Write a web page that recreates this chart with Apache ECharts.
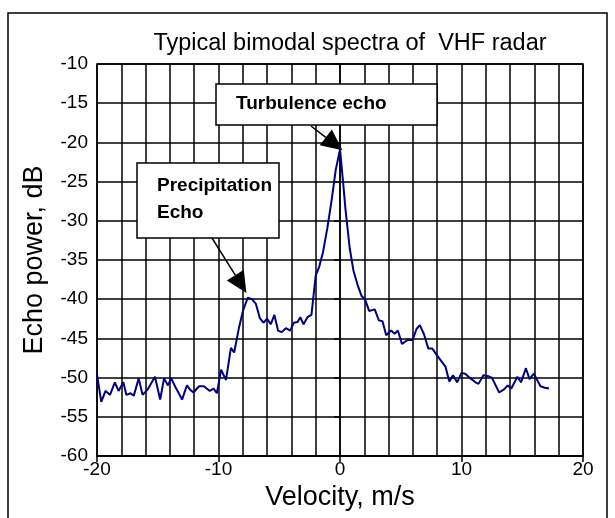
<!DOCTYPE html>
<html>
<head>
<meta charset="utf-8">
<script src="https://cdn.jsdelivr.net/npm/echarts@6/dist/echarts.min.js"></script>
<style>
  body { margin: 0; background: #fff; }
  #main { width: 615px; height: 518px; }
</style>
</head>
<body>
<div id="main"></div>
<script>
// spectrum: velocity (m/s) and echo power (dB)
var velocity = [
  -20.0, -19.65, -19.3, -18.93, -18.53, -18.23, -17.83, -17.59, -17.24, -16.97,
  -16.57, -16.25, -15.82, -15.23, -14.8, -14.48, -14.16, -13.89, -13.55, -13.3,
  -13.0, -12.6, -12.3, -12.06, -11.6, -11.2, -10.72, -10.4, -10.13, -9.79,
  -9.38, -8.98, -8.71, -8.31, -7.99, -7.59, -7.25, -6.92, -6.6, -6.3,
  -6.0, -5.7, -5.4, -5.1, -4.8, -4.45, -4.1, -3.8, -3.49, -3.27,
  -3.0, -2.68, -2.35, -2.0, -1.7, -1.4, -1.05, -0.7, -0.35, 0.0,
  0.25, 0.45, 0.8, 1.1, 1.45, 1.78, 2.05, 2.4, 2.86, 3.2,
  3.5, 3.8, 4.2, 4.5, 4.76, 5.1, 5.57, 5.97, 6.3, 6.57,
  6.92, 7.27, 7.6, 8.0, 8.68, 9.0, 9.3, 9.64, 10.0, 10.3,
  10.74, 11.15, 11.4, 11.8, 12.15, 12.5, 13.1, 13.5, 13.8, 14.1,
  14.6, 14.9, 15.3, 15.6, 15.95, 16.5, 16.85, 17.2
];
var power = [
  -49.6, -53.1, -51.7, -52.2, -50.6, -51.7, -50.6, -52.2, -52.0, -52.3,
  -50.1, -52.2, -51.5, -49.9, -52.8, -50.1, -51.0, -50.1, -51.2, -51.9,
  -52.8, -51.0, -51.6, -51.9, -51.1, -51.1, -51.7, -51.4, -52.0, -49.0,
  -50.3, -46.2, -46.8, -43.6, -41.5, -39.8, -40.0, -40.6, -42.4, -43.0,
  -42.5, -43.2, -42.0, -44.0, -44.2, -43.7, -44.0, -43.0, -42.9, -42.3,
  -43.2, -42.3, -42.0, -37.0, -35.8, -34.0, -31.0, -27.5, -23.5, -20.9,
  -25.0, -28.5, -33.5, -36.3, -38.2, -39.6, -40.0, -41.5, -41.3, -42.7,
  -42.8, -44.6, -44.0, -44.4, -44.0, -45.7, -45.2, -45.2, -43.8, -43.3,
  -44.5, -46.3, -46.3, -47.2, -48.6, -50.5, -49.7, -50.6, -49.4, -49.5,
  -50.1, -50.6, -50.8, -49.7, -49.8, -50.0, -51.9, -51.5, -51.0, -51.4,
  -49.9, -50.6, -48.8, -50.2, -49.5, -51.1, -51.3, -51.4
];

// callouts: text and the point each arrow points at
var turbText = 'Turbulence echo';
var turbTip = [0.2, -21.0];
var precipText = 'Precipitation\nEcho';
var precipTip = [-7.7, -39.2];

var font = "'Liberation Sans', Arial, sans-serif";

var chart = echarts.init(document.getElementById('main'));

chart.setOption({
  animation: false,
  backgroundColor: '#fff',
  title: {
    text: 'Typical bimodal spectra of  VHF radar',
    left: 345,
    top: 27,
    textAlign: 'center',
    textStyle: { fontFamily: font, fontSize: 23.5, fontWeight: 'normal', color: '#000' }
  },
  grid: {
    left: 97, top: 64, right: 32, bottom: 62,
    show: true, borderColor: '#000', borderWidth: 1.5, backgroundColor: '#fff'
  },
  xAxis: {
    type: 'value',
    min: -20, max: 20, interval: 10,
    name: 'Velocity, m/s',
    nameLocation: 'middle',
    nameGap: 27,
    nameTextStyle: { fontFamily: font, fontSize: 27, color: '#000' },
    axisLine: { onZero: false, lineStyle: { color: '#000', width: 1.5 } },
    axisTick: { show: true, length: 6, lineStyle: { color: '#000', width: 1.5 } },
    axisLabel: { margin: 4, fontFamily: font, fontSize: 19, color: '#000' },
    splitLine: { show: true, lineStyle: { color: '#000', width: 1.5 } },
    minorTick: { show: false, splitNumber: 5 },
    minorSplitLine: { show: true, lineStyle: { color: '#000', width: 1.5 } }
  },
  yAxis: {
    type: 'value',
    min: -60, max: -10, interval: 5,
    name: 'Echo power, dB',
    nameLocation: 'middle',
    nameGap: 49,
    nameTextStyle: { fontFamily: font, fontSize: 27, color: '#000' },
    axisLine: { show: true, lineStyle: { color: '#000', width: 1.5 } },
    axisTick: { show: true, length: 6, lineStyle: { color: '#000', width: 1.5 } },
    axisLabel: { margin: 9, fontFamily: font, fontSize: 19, color: '#000' },
    splitLine: { show: true, lineStyle: { color: '#000', width: 1.5 } }
  },
  series: [{
    type: 'line',
    data: velocity.map(function (v, i) { return [v, power[i]]; }),
    showSymbol: false,
    lineStyle: { color: '#000080', width: 2 },
    z: 3
  }]
});

function arrow(x0, y0, x1, y1) {
  var dx = x1 - x0, dy = y1 - y0;
  var len = Math.sqrt(dx * dx + dy * dy);
  var ux = dx / len, uy = dy / len;
  var head = 21, half = 10;
  var bx = x1 - ux * head, by = y1 - uy * head;
  return [
    { type: 'line', z: 20, shape: { x1: x0, y1: y0, x2: bx, y2: by },
      style: { stroke: '#000', lineWidth: 1.5 } },
    { type: 'polygon', z: 20,
      shape: { points: [[x1, y1], [bx - uy * half, by + ux * half], [bx + uy * half, by - ux * half]] },
      style: { fill: '#000' } }
  ];
}

var tTip = chart.convertToPixel({ gridIndex: 0 }, turbTip);
var pTip = chart.convertToPixel({ gridIndex: 0 }, precipTip);

var elements = [
  { type: 'rect', z: 1, shape: { x: 8, y: 13, width: 599, height: 520 },
    style: { fill: 'none', stroke: '#000', lineWidth: 1.5 } },
  { type: 'rect', z: 10, shape: { x: 216, y: 84, width: 221, height: 41 },
    style: { fill: '#fff', stroke: '#000', lineWidth: 1.5 } },
  { type: 'text', z: 11, style: { text: turbText, x: 236, y: 104, textVerticalAlign: 'middle',
    font: 'bold 19px ' + font, fill: '#000' } },
  { type: 'rect', z: 10, shape: { x: 137, y: 163, width: 142, height: 75 },
    style: { fill: '#fff', stroke: '#000', lineWidth: 1.5 } },
  { type: 'text', z: 11, style: { text: precipText, x: 157, y: 172, lineHeight: 27,
    font: 'bold 19px ' + font, fill: '#000' } }
];
elements = elements.concat(arrow(311, 126, tTip[0], tTip[1]));
elements = elements.concat(arrow(212, 238, pTip[0], pTip[1]));

chart.setOption({ graphic: { elements: elements } });
</script>
</body>
</html>
